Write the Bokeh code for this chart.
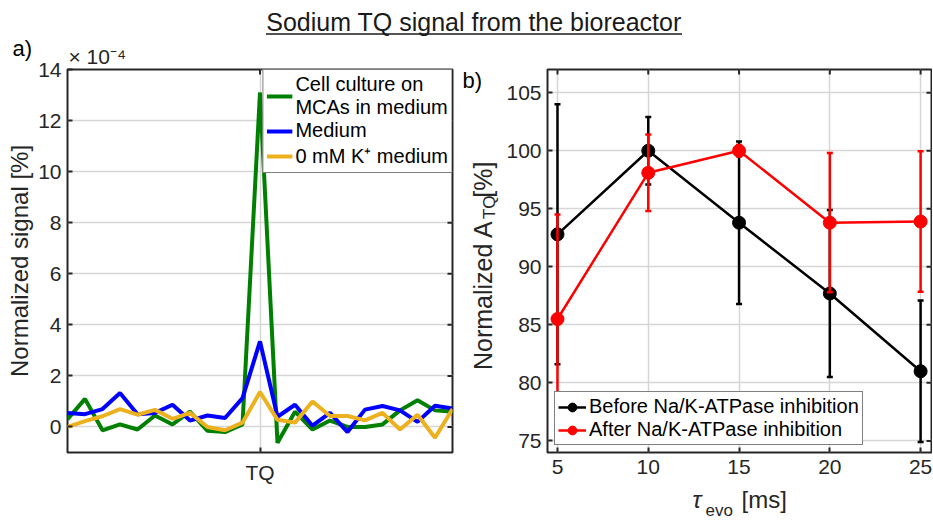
import numpy as np
from bokeh.plotting import figure
from bokeh.models import Range1d, FixedTicker, Label, Legend, LegendItem
from bokeh.layouts import column, row
from bokeh.embed import file_html
from bokeh.resources import INLINE

FONT = "Liberation Sans"
TXT = "#262626"

# ---------------- panel a data ----------------
sample_index = list(range(23))
tq_position = [11]
tq_label = "TQ"
cell_culture = [0.3, 1.1, -0.13, 0.1, -0.1, 0.45, 0.1, 0.6, -0.15, -0.2, 0.1, 13.1,
                -0.62, 0.6, -0.1, 0.25, 0.0, 0.0, 0.1, 0.65, 1.05, 0.65, 0.6]
medium = [0.55, 0.5, 0.7, 1.33, 0.5, 0.55, 0.87, 0.25, 0.45, 0.35, 1.13, 3.35,
          0.4, 0.87, 0.05, 0.55, -0.2, 0.68, 0.82, 0.65, 0.2, 0.83, 0.72]
medium_0k = [0.0, 0.23, 0.42, 0.7, 0.48, 0.67, 0.32, 0.55, 0.0, -0.13, 0.17, 1.37,
             0.28, 0.17, 1.0, 0.43, 0.43, 0.26, 0.55, -0.1, 0.48, -0.42, 0.7]
signal_ticks = [0, 2, 4, 6, 8, 10, 12, 14]
series_a_labels = ["Cell culture on\nMCAs in medium", "Medium", "0 mM K\u207a medium"]
exponent_text = "\u00d7 10\u207b\u2074"

# ---------------- panel b data ----------------
tau_evo = [5, 10, 15, 20, 25]
before = [92.8, 100.0, 93.8, 87.7, 81.0]
before_err = [11.2, 2.9, 7.0, 7.2, 6.1]
after = [85.5, 98.1, 100.0, 93.8, 93.9]
after_err = [9.0, 3.3, 0.5, 6.0, 6.05]
atq_ticks = [75, 80, 85, 90, 95, 100, 105]
tau_ticks = [5, 10, 15, 20, 25]
series_b_labels = ["Before Na/K-ATPase inhibition", "After Na/K-ATPase inhibition"]

main_title = "Sodium TQ signal from the bioreactor"


def style_axis(ax, ticker, standoff, overrides=None):
    ax.ticker = ticker
    ax.major_tick_in = 5
    ax.major_tick_out = 0
    ax.minor_tick_in = 0
    ax.minor_tick_out = 0
    ax.major_tick_line_color = TXT
    ax.major_tick_line_width = 2
    ax.axis_line_color = None
    ax.major_label_text_font = FONT
    ax.major_label_text_color = TXT
    ax.major_label_text_font_size = "21px"
    ax.major_label_standoff = standoff
    if overrides:
        ax.major_label_overrides = overrides


def base_fig(width, height, xr, yr, left, right, top, bottom):
    p = figure(width=width, height=height, x_range=xr, y_range=yr,
               output_backend="svg", toolbar_location=None,
               min_border_left=left, min_border_right=right,
               min_border_top=top, min_border_bottom=bottom)
    p.outline_line_color = TXT
    p.outline_line_width = 2
    p.background_fill_color = "white"
    p.border_fill_color = "white"
    for g in p.grid:
        g.grid_line_color = "#d6d6d6"
        g.grid_line_width = 1.5
    return p


def strip(width, height):
    # text-only strip: its frame is the whole canvas, units are pixels (y downwards)
    s = figure(width=width, height=height, x_range=Range1d(0, width), y_range=Range1d(height, 0),
               x_axis_type=None, y_axis_type=None, output_backend="svg", toolbar_location=None,
               min_border=0)
    s.grid.visible = False
    s.outline_line_color = None
    s.background_fill_color = "white"
    s.border_fill_color = "white"
    return s


def box_ticks(p, xticks, yticks, xr, yr, px_x, px_y, tick_px=5):
    # inward ticks on the top and right edges of the box (Matlab "box on")
    dx = tick_px / px_x
    dy = tick_px / px_y
    p.segment(xticks, [yr[1]] * len(xticks), xticks, [yr[1] - dy] * len(xticks),
              line_color=TXT, line_width=2)
    p.segment([xr[1]] * len(yticks), yticks, [xr[1] - dx] * len(yticks), yticks,
              line_color=TXT, line_width=2)


def lab(p, x, y, text, fs, rotated=False, align="left", style="normal", color=TXT):
    # strip label: (x, y) = point on the text baseline (pixels, y down);
    # labels are anchored at their middle, so shift by ~0.35 em from the baseline
    off = 0.35 * fs
    if rotated:
        x, ang = x - off, np.pi / 2
    else:
        y, ang = y - off, 0.0
    p.add_layout(Label(x=x, y=y, text=text, text_font=FONT, text_font_size=f"{fs}px",
                       angle=ang, text_align=align, text_baseline="middle",
                       text_color=color, text_font_style=style))


def side_lab(p, side, x, y, text, fs, color=TXT):
    # label in data units placed in a side panel (so it is not clipped by the frame)
    p.add_layout(Label(x=x, y=y, text=text, text_font=FONT, text_font_size=f"{fs}px",
                       text_align="left", text_baseline="middle", text_color=color), side)


# ================= top strip: title =================
top = strip(932, 36)
lab(top, 473.5, 30, main_title, 25, align="center", color="#1a1a1a")
top.segment([265.5], [33.5], [681.5], [33.5], line_color="#1a1a1a", line_width=1.5)

# ================= panel a =================
xr1, yr1 = (0, 22), (-1, 14)
p1 = base_fig(460, 484, Range1d(*xr1), Range1d(*yr1), 67, 8, 33, 68)
xt1 = FixedTicker(ticks=tq_position)
yt1 = FixedTicker(ticks=signal_ticks)
style_axis(p1.xaxis[0], xt1, 8, {tq_position[0]: tq_label})
style_axis(p1.yaxis[0], yt1, 6)
p1.yaxis[0].axis_label = "Normalized signal [%]"
p1.yaxis[0].axis_label_text_font = FONT
p1.yaxis[0].axis_label_text_font_size = "24px"
p1.yaxis[0].axis_label_text_font_style = "normal"
p1.yaxis[0].axis_label_text_color = TXT
p1.yaxis[0].axis_label_standoff = 2
p1.xgrid.ticker = xt1
p1.ygrid.ticker = yt1
box_ticks(p1, tq_position, signal_ticks, xr1, yr1, 385 / 22, 383 / 15)

ra = []
for ys, c in zip([cell_culture, medium, medium_0k], ["#008000", "#0000ff", "#EDB120"]):
    ra.append(p1.line(sample_index, ys, line_color=c, line_width=4))

leg1 = Legend(items=[LegendItem(label=l, renderers=[r]) for l, r in zip(series_a_labels, ra)],
              location="top_right", margin=0, padding=3, spacing=0,
              glyph_width=26, glyph_height=22, label_standoff=3, label_height=22,
              label_text_font=FONT, label_text_font_size="20px", label_text_color="#000",
              label_text_line_height=1.1,
              border_line_color="#000", border_line_width=1.5,
              background_fill_color="white", background_fill_alpha=1.0)
p1.add_layout(leg1)

# panel letter and the axis exponent (data units, above the box)
side_lab(p1, "above", -3.143, 14.811, "a)", 22, color="#000")
side_lab(p1, "below", 0.057, 14.523, exponent_text, 21)

# ================= panel b =================
xr2, yr2 = (4.45, 25.6), (74, 107)
p2 = base_fig(432, 448, Range1d(*xr2), Range1d(*yr2), 47, 1, 33, 32)
xt2 = FixedTicker(ticks=tau_ticks)
yt2 = FixedTicker(ticks=atq_ticks)
style_axis(p2.xaxis[0], xt2, 7)
style_axis(p2.yaxis[0], yt2, 6)
p2.xgrid.ticker = xt2
p2.ygrid.ticker = yt2
box_ticks(p2, tau_ticks, atq_ticks, xr2, yr2, 384 / 21.15, 383 / 33)

items = []
for ys, es, c, l in [(before, before_err, "#000000", series_b_labels[0]),
                     (after, after_err, "#ff0000", series_b_labels[1])]:
    lo = [y - e for y, e in zip(ys, es)]
    hi = [y + e for y, e in zip(ys, es)]
    p2.segment(tau_evo, lo, tau_evo, hi, line_color=c, line_width=2.5)
    p2.scatter(tau_evo + tau_evo, lo + hi, marker="dash", size=6, line_color=c, line_width=2.5)
    ln = p2.line(tau_evo, ys, line_color=c, line_width=2.5)
    dots = p2.scatter(tau_evo, ys, marker="circle", size=13, fill_color=c, line_color=c)
    items.append(LegendItem(label=l, renderers=[ln, dots]))

leg2 = Legend(items=items, location="bottom_left", margin=7, padding=3, spacing=0,
              glyph_width=28, glyph_height=22, label_standoff=3, label_height=22,
              label_text_font=FONT, label_text_font_size="20px", label_text_color="#000",
              border_line_color="#000", border_line_width=1.5,
              background_fill_color="white", background_fill_alpha=1.0)
p2.add_layout(leg2)

# strip left of panel b: panel letter and y label "Normalized A_TQ [%]"
ylab2 = strip(40, 448)
lab(ylab2, 2, 20, "b)", 22, color="#000")
lab(ylab2, 31, 176, "Normalized A", 25, rotated=True, align="right")
lab(ylab2, 35, 175, "TQ", 17, rotated=True)
lab(ylab2, 31, 150, "[%]", 25, rotated=True)

# strip below panel b: x label "tau_evo [ms]"
xlab2 = strip(472, 36)
lab(xlab2, 232, 23, "\u03c4", 24, style="italic")
lab(xlab2, 245, 32, "evo", 17)
lab(xlab2, 281, 23, "[ms]", 24)

right_block = column(row(ylab2, p2, spacing=0), xlab2, spacing=0)
layout = column(top, row(p1, right_block, spacing=0), spacing=0)
open("out.html", "w").write(file_html(layout, INLINE))
